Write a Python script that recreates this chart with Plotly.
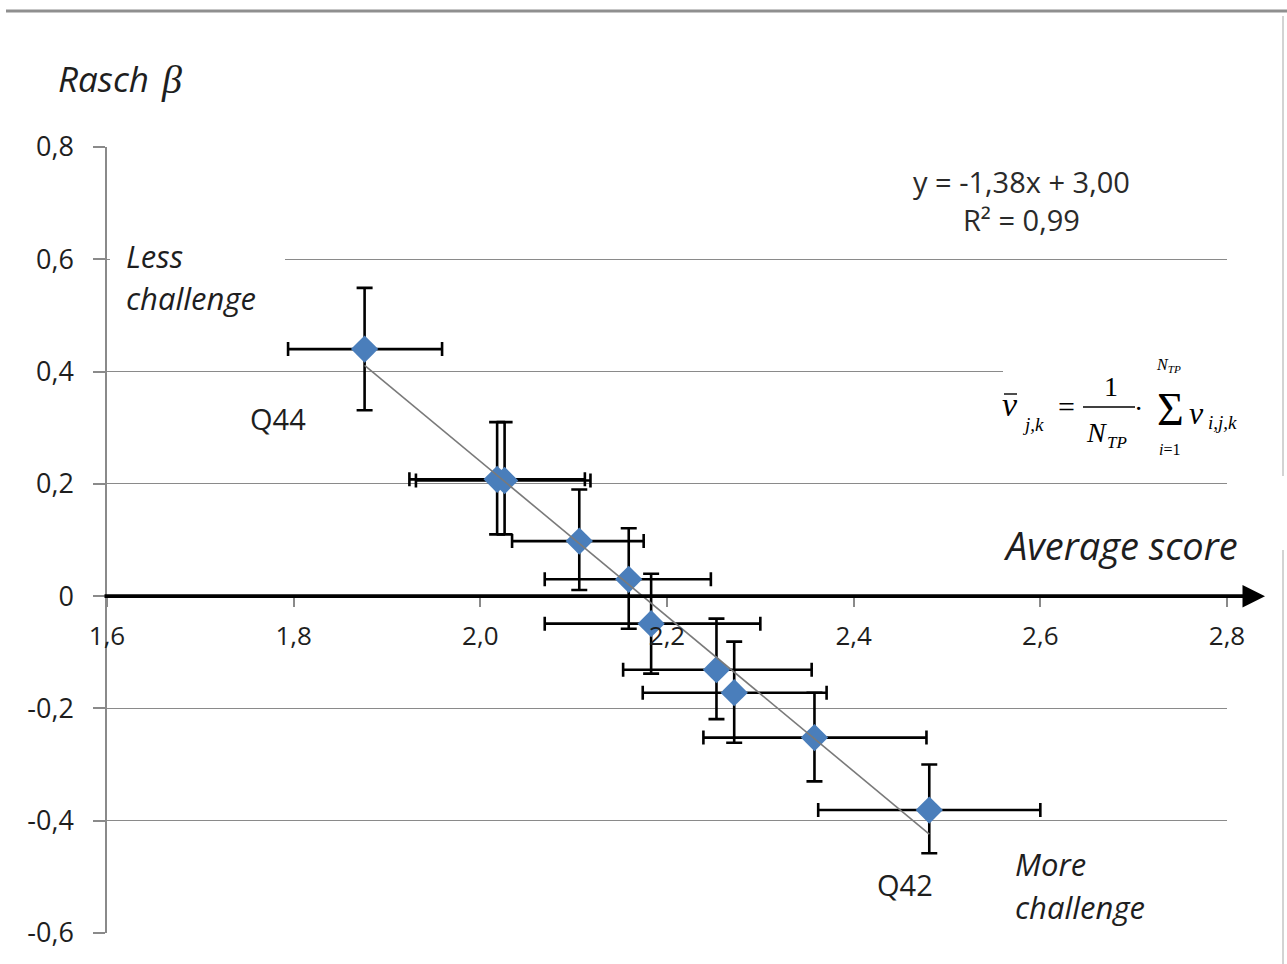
import plotly.graph_objects as go

# ---- data -------------------------------------------------------------
avg_score = [1.876, 2.018, 2.026, 2.106, 2.159, 2.183, 2.253, 2.272, 2.358, 2.481]
rasch_beta = [0.440, 0.208, 0.206, 0.098, 0.030, -0.049, -0.131, -0.172, -0.252, -0.381]
score_low = [1.794, 1.924, 1.931, 2.034, 2.069, 2.069, 2.153, 2.174, 2.239, 2.362]
score_high = [1.959, 2.112, 2.118, 2.175, 2.247, 2.300, 2.355, 2.371, 2.478, 2.600]
beta_low = [0.331, 0.110, 0.110, 0.011, -0.058, -0.138, -0.219, -0.261, -0.330, -0.458]
beta_high = [0.549, 0.310, 0.310, 0.190, 0.121, 0.040, -0.040, -0.081, -0.172, -0.300]

fit_slope = -1.38
fit_intercept = 3.00
fit_r2 = 0.99

x_ticks = [1.6, 1.8, 2.0, 2.2, 2.4, 2.6, 2.8]
x_tick_text = ["1,6", "1,8", "2,0", "2,2", "2,4", "2,6", "2,8"]
y_ticks = [-0.6, -0.4, -0.2, 0.0, 0.2, 0.4, 0.6, 0.8]
y_tick_text = ["-0,6", "-0,4", "-0,2", "0", "0,2", "0,4", "0,6", "0,8"]

# ---- layout geometry (pixels of the 1287x964 page) ----------------------
W, H = 1287, 964
L, R, T, B = 107, 60, 147, 31
PW, PH = W - L - R, H - T - B
Y_MIN, Y_MAX = -0.6, 0.8


def px(p):
    """page x pixel -> paper fraction"""
    return (p - L) / PW


def py(p):
    """page y pixel -> paper fraction"""
    return (H - B - p) / PH


def comma(v, nd=2):
    return f"{v:.{nd}f}".replace(".", ",")


GRID = "#8a8a8a"
TXT = "#1e1e1e"
SANS = "Open Sans"
SERIF = "Liberation Serif"

x_plus = [h - x for h, x in zip(score_high, avg_score)]
x_minus = [x - l for l, x in zip(score_low, avg_score)]
y_plus = [h - y for h, y in zip(beta_high, rasch_beta)]
y_minus = [y - l for l, y in zip(beta_low, rasch_beta)]

fig = go.Figure()

fig.add_trace(go.Scatter(
    x=avg_score, y=rasch_beta, mode="markers",
    marker=dict(symbol="diamond", size=21, color="#4a7ebb",
                line=dict(width=0)),
    error_x=dict(type="data", symmetric=False, array=x_plus, arrayminus=x_minus,
                 color="black", thickness=2.6, width=7),
    error_y=dict(type="data", symmetric=False, array=y_plus, arrayminus=y_minus,
                 color="black", thickness=2.6, width=8),
    cliponaxis=False, showlegend=False, hoverinfo="x+y",
))

# linear trend line over the data span
fit_x = [min(avg_score), max(avg_score)]
fit_y = [fit_slope * v + fit_intercept for v in fit_x]
fig.add_trace(go.Scatter(
    x=fit_x, y=fit_y, mode="lines",
    line=dict(color="#7a7a7a", width=1.6),
    showlegend=False, hoverinfo="skip",
))

zero_y = (0 - Y_MIN) / (Y_MAX - Y_MIN)   # paper height of the y = 0 line

shapes = [
    # white boxes behind the corner texts (hide gridlines there)
    dict(type="rect", xref="paper", yref="paper", layer="above",
         x0=px(110), x1=px(285), y0=py(322), y1=py(232),
         fillcolor="white", line=dict(width=0)),
    dict(type="rect", xref="paper", yref="paper", layer="above",
         x0=px(1003), x1=px(1282), y0=py(462), y1=py(352),
         fillcolor="white", line=dict(width=0)),
    # frame lines of the page
    dict(type="line", xref="paper", yref="paper",
         x0=px(6), x1=px(1287), y0=py(11), y1=py(11),
         line=dict(color="#8f8f8f", width=3)),
    dict(type="line", xref="paper", yref="paper",
         x0=px(1283), x1=px(1283), y0=py(16), y1=py(476),
         line=dict(color="#c4c4c4", width=1.5)),
    dict(type="line", xref="paper", yref="paper",
         x0=px(1283), x1=px(1283), y0=py(550), y1=py(964),
         line=dict(color="#c4c4c4", width=1.5)),
    # formula: overbar and fraction bar
    dict(type="line", xref="paper", yref="paper",
         x0=px(1004), x1=px(1017), y0=py(394), y1=py(394),
         line=dict(color="black", width=1.4)),
    dict(type="line", xref="paper", yref="paper",
         x0=px(1083), x1=px(1135), y0=py(407), y1=py(407),
         line=dict(color="black", width=1.4)),
]


def label(text, x, y, size, xanchor="left", italic=False, family=SANS, color=TXT):
    return dict(text=text, xref="paper", yref="paper", x=px(x), y=py(y),
                xanchor=xanchor, yanchor="middle", showarrow=False,
                font=dict(family=family, size=size, color=color,
                          style="italic" if italic else "normal"))


fit_text = (f"y = {comma(fit_slope)}x + {comma(fit_intercept)}"
            f"<br>R² = {comma(fit_r2)}")

annotations = [
    # x axis: black arrow through y = 0
    dict(x=px(1265), y=zero_y, xref="paper", yref="paper",
         ax=-(1265 - 103), ay=0, axref="pixel", ayref="pixel",
         text="", showarrow=True, arrowhead=2, arrowsize=1.25, arrowwidth=3.6,
         arrowcolor="black", standoff=0, startstandoff=0),
    label("Rasch", 56, 78, 35, italic=True),
    label("β", 159, 80, 40, italic=True, family=SERIF),
    label("Less", 124, 256, 31, italic=True),
    label("challenge", 124, 298, 31, italic=True),
    label("More", 1013, 864, 31, italic=True),
    label("challenge", 1013, 907, 31, italic=True),
    label("Q44", 278, 418, 29, xanchor="center"),
    label("Q42", 905, 884, 29, xanchor="center"),
    label("Average score", 1001, 545, 38, italic=True),
    label(fit_text, 1021, 200, 29, xanchor="center", color="#2a2a2a"),
    # formula for the average score
    label("<i>v</i>", 1010, 404, 34, xanchor="center", family=SERIF, color="black"),
    label("<i>j,k</i>", 1033, 424, 19, xanchor="center", family=SERIF, color="black"),
    label("=", 1066, 407, 30, xanchor="center", family=SERIF, color="black"),
    label("1", 1111, 386, 28, xanchor="center", family=SERIF, color="black"),
    label("<i>N</i>", 1096, 432, 28, xanchor="center", family=SERIF, color="black"),
    label("<i>TP</i>", 1117, 442, 17, xanchor="center", family=SERIF, color="black"),
    label("·", 1138, 408, 28, xanchor="center", family=SERIF, color="black"),
    label("Σ", 1170, 409, 46, xanchor="center", family=SERIF, color="black"),
    label("<i>N<sub>TP</sub></i>", 1168, 365, 16, xanchor="center", family=SERIF, color="black"),
    label("<i>i</i>=1", 1169, 449, 16, xanchor="center", family=SERIF, color="black"),
    label("<i>v</i>", 1196, 413, 32, xanchor="center", family=SERIF, color="black"),
    label("<i>i,j,k</i>", 1222, 422, 19, xanchor="center", family=SERIF, color="black"),
]

fig.update_layout(
    width=W, height=H,
    margin=dict(l=L, r=R, t=T, b=B, pad=0),
    paper_bgcolor="white", plot_bgcolor="white",
    font=dict(family=SANS, color=TXT),
    shapes=shapes, annotations=annotations,
    showlegend=False,
    xaxis=dict(range=[1.6, 2.8], tickvals=x_ticks, ticktext=x_tick_text,
               showgrid=False, zeroline=False, showline=False,
               ticks="outside", ticklen=10, tickwidth=1.5, tickcolor=GRID,
               tickfont=dict(size=26, color=TXT), ticklabelstandoff=7,
               anchor="free", position=zero_y, fixedrange=True),
    yaxis=dict(range=[Y_MIN, Y_MAX], tickvals=y_ticks, ticktext=y_tick_text,
               showgrid=True, gridcolor=GRID, gridwidth=1.3,
               zeroline=False, showline=True, linecolor=GRID, linewidth=1.5,
               ticks="outside", ticklen=12, tickwidth=1.5, tickcolor=GRID,
               tickfont=dict(size=27, color=TXT), ticklabelstandoff=14,
               fixedrange=True),
)

fig.write_html("out.html")
